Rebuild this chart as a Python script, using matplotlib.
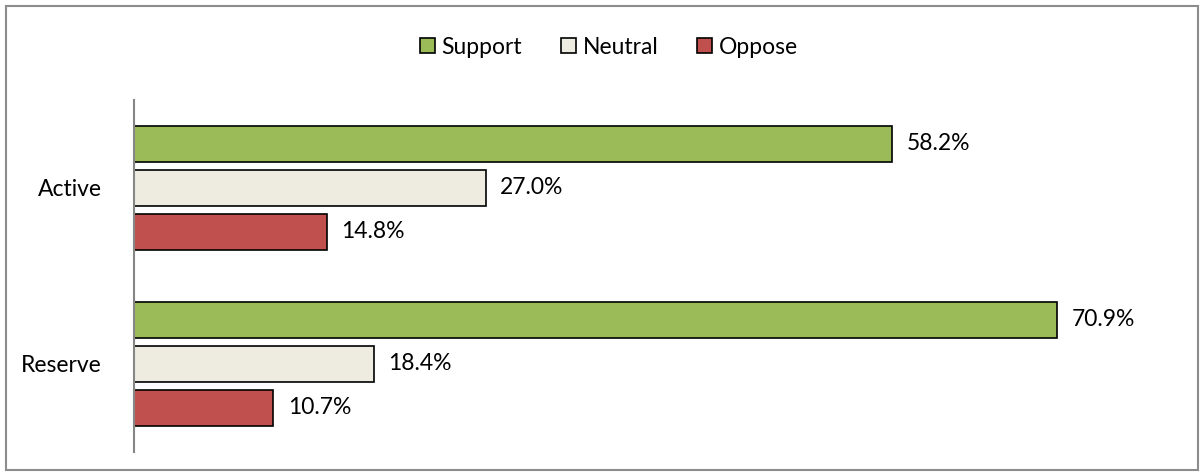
import matplotlib
matplotlib.use("Agg")
import matplotlib.pyplot as plt
from matplotlib.patches import Rectangle

categories = ["Active", "Reserve"]
series = ["Support", "Neutral", "Oppose"]
support = [58.2, 70.9]
neutral = [27.0, 18.4]
oppose = [14.8, 10.7]
colors = ["#9BBB59", "#EEECE1", "#C0504D"]

plt.rcParams['font.family'] = ['Lato', 'DejaVu Sans']
FS = 16.5

fig = plt.figure(figsize=(12.04, 4.76), dpi=100)
fig.patches.append(Rectangle((6/1204, 6/476), 1192/1204, 464/476, transform=fig.transFigure,
                             fill=False, edgecolor="#8C8C8C", linewidth=1.5))

ax = fig.add_axes([134/1204, 1-452/476, 1042/1204, 352/476])
ypos = [1, 0]
offsets = [0.25, 0.0, -0.25]
h = 0.2
for vals, name, col, off in zip([support, neutral, oppose], series, colors, offsets):
    ys = [y + off for y in ypos]
    ax.barh(ys, vals, height=h, color=col, edgecolor="black", linewidth=1.2, label=name)
    for y, v in zip(ys, vals):
        ax.text(v + 1.1, y, f"{v:.1f}%", va="center", ha="left", fontsize=FS)

ax.set_xlim(0, 80)
ax.set_ylim(-0.5, 1.5)
ax.set_yticks(ypos)
ax.set_yticklabels(categories, fontsize=FS)
ax.tick_params(axis='y', length=0, pad=23)
ax.set_xticks([])
for s in ["top", "right", "bottom"]:
    ax.spines[s].set_visible(False)
ax.spines["left"].set_color("#868686")
ax.spines["left"].set_linewidth(1.5)

fig.legend(loc="center", bbox_to_anchor=(609/1204, 1-47/476), ncol=3, frameon=False,
           fontsize=FS, handlelength=0.65, handleheight=0.65, handletextpad=0.3,
           columnspacing=1.7)

fig.savefig("out.png", dpi=100)
